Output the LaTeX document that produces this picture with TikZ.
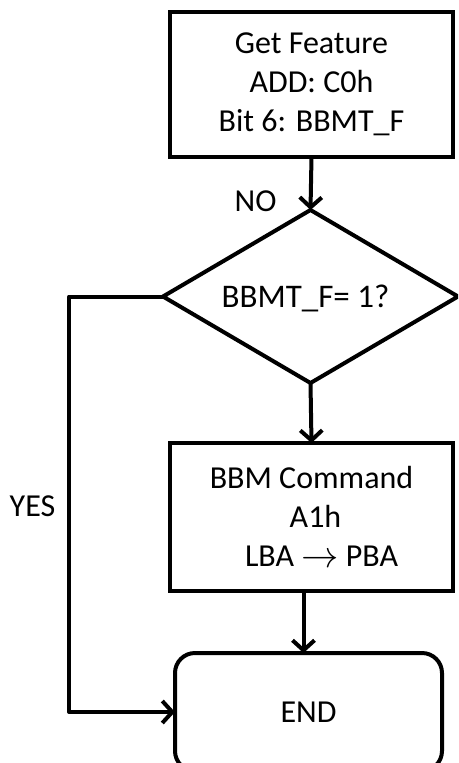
\documentclass[tikz,border=0pt]{standalone}
\usepackage{fontspec}
\usepackage{graphicx}
\setmainfont{Carlito}
\usetikzlibrary{shapes.geometric,arrows.meta,calc}
\begin{document}
\begin{tikzpicture}[x=1pt,y=-1pt,
  every node/.style={font=\fontsize{32}{39}\selectfont},
  box/.style={draw,line width=4pt,align=center,inner sep=0pt,outer sep=0pt},
  flow/.style={line width=4pt,-{Straight Barb[length=10pt,width=22pt,line width=4pt]}},
  lbl/.style={inner sep=0pt}]
\useasboundingbox (0,0) rectangle (458,763);
\clip (0,0) rectangle (458,763);
\node[box,minimum width=283pt,minimum height=145pt] (get) at (311.5,84.5) {Get Feature\\ADD: C0h\\Bit 6: BBMT\_F};
\node[box,diamond,aspect=1.705,minimum width=295pt,minimum height=173pt] (dec) at (310.5,296.5) {};
\node[lbl,font=\fontsize{33}{39}\selectfont] (dectext) at (305.5,298) {BBMT\_F= 1?};
\node[box,minimum width=283pt,minimum height=148pt] (bbm) at (311.5,517) {BBM Command\\\hspace*{8pt}A1h\\\hspace*{20pt}LBA \raisebox{-1pt}{\scalebox{1.5}{$\rightarrow$}} PBA};
\node[box,rounded corners=20pt,minimum width=267pt,minimum height=118pt] (end) at (308.5,712) {END};
\node[lbl] (no) at (255.5,201) {NO};
\node[lbl] (yes) at (32.5,506) {YES};
\draw[flow] (get.south) -- (dec.north);
\draw[flow] (dec.south) -- (bbm.north);
\coordinate (b2) at ($(bbm.south)+(-8,0)$);
\draw[flow] (b2) -- (b2 |- end.north);
\coordinate (yc) at (69,296);
\draw[flow,line join=round] (dec.west) -- (dec.west -| yc) -- (yc |- end.west) -- (end.west);
\end{tikzpicture}
\end{document}
